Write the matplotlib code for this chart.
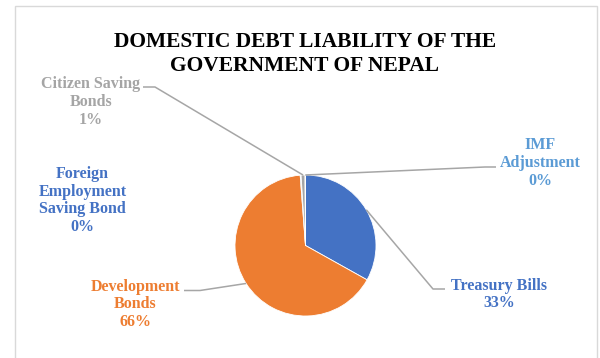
import numpy as np
import matplotlib
matplotlib.use("Agg")
import matplotlib.pyplot as plt
from matplotlib.patches import Rectangle

# ---- data ----
categories = ["Treasury Bills", "Development Bonds", "Foreign Employment Saving Bond",
              "Citizen Saving Bonds", "IMF Adjustment"]
label_text = ["Treasury Bills", "Development\nBonds", "Foreign\nEmployment\nSaving Bond",
              "Citizen Saving\nBonds", "IMF\nAdjustment"]
values = [33.1, 65.7, 0.2, 0.9, 0.1]
pct_labels = ["33%", "66%", "0%", "1%", "0%"]
wedge_colors = ["#4472C4", "#ED7D31", "#264478", "#A5A5A5", "#5B9BD5"]
label_colors = ["#4472C4", "#ED7D31", "#4472C4", "#A5A5A5", "#5B9BD5"]
title = "DOMESTIC DEBT LIABILITY OF THE\nGOVERNMENT OF NEPAL"

W, H = 600, 358
fig = plt.figure(figsize=(W / 100, H / 100), dpi=100)
ax = fig.add_axes([0, 0, 1, 1])

def P(x, y):
    return (x, H - y)

cx, cy = P(305.5, 245.5)
R = 70.5
wedges, _ = ax.pie(values, colors=wedge_colors, startangle=90, counterclock=False,
                   radius=R, center=(cx, cy), frame=True,
                   wedgeprops=dict(linewidth=0.6, edgecolor="white"))
ax.set_xlim(0, W)
ax.set_ylim(0, H)
ax.set_aspect("equal")
ax.axis("off")

# chart frame
ax.add_patch(Rectangle(P(15, 400), 582, 394, fill=False, edgecolor="#D9D9D9", lw=1.0))

font = "Liberation Serif"
ax.text(*P(305, 54), title, ha="center", va="center", fontsize=15.5, fontweight="bold",
        family=font, color="black", linespacing=1.3)

# label positions (pixel coords: center of text block) and leader anchor points
label_pos = [P(499, 294.5), P(135, 304.5), P(82.5, 200.5), P(91, 102), P(540, 163)]
leaders = {
    0: [P(445, 289), P(433, 289)],
    1: [P(184, 290.5), P(200, 290.5)],
    3: [P(143, 87), P(155, 87)],
    4: [P(496, 167), P(485, 167)],
}

for i, w in enumerate(wedges):
    txt = label_text[i] + "\n" + pct_labels[i]
    ax.text(*label_pos[i], txt, ha="center", va="center", fontsize=11.5,
            fontweight="bold", family=font, color=label_colors[i], linespacing=1.16)
    if i in leaders:
        ang = np.deg2rad((w.theta1 + w.theta2) / 2)
        ex, ey = cx + R * np.cos(ang), cy + R * np.sin(ang)
        pts = leaders[i] + [(ex, ey)]
        xs, ys = zip(*pts)
        ax.plot(xs, ys, color="#A6A6A6", lw=1.1, solid_capstyle="butt")

fig.savefig("out.png", dpi=100)
